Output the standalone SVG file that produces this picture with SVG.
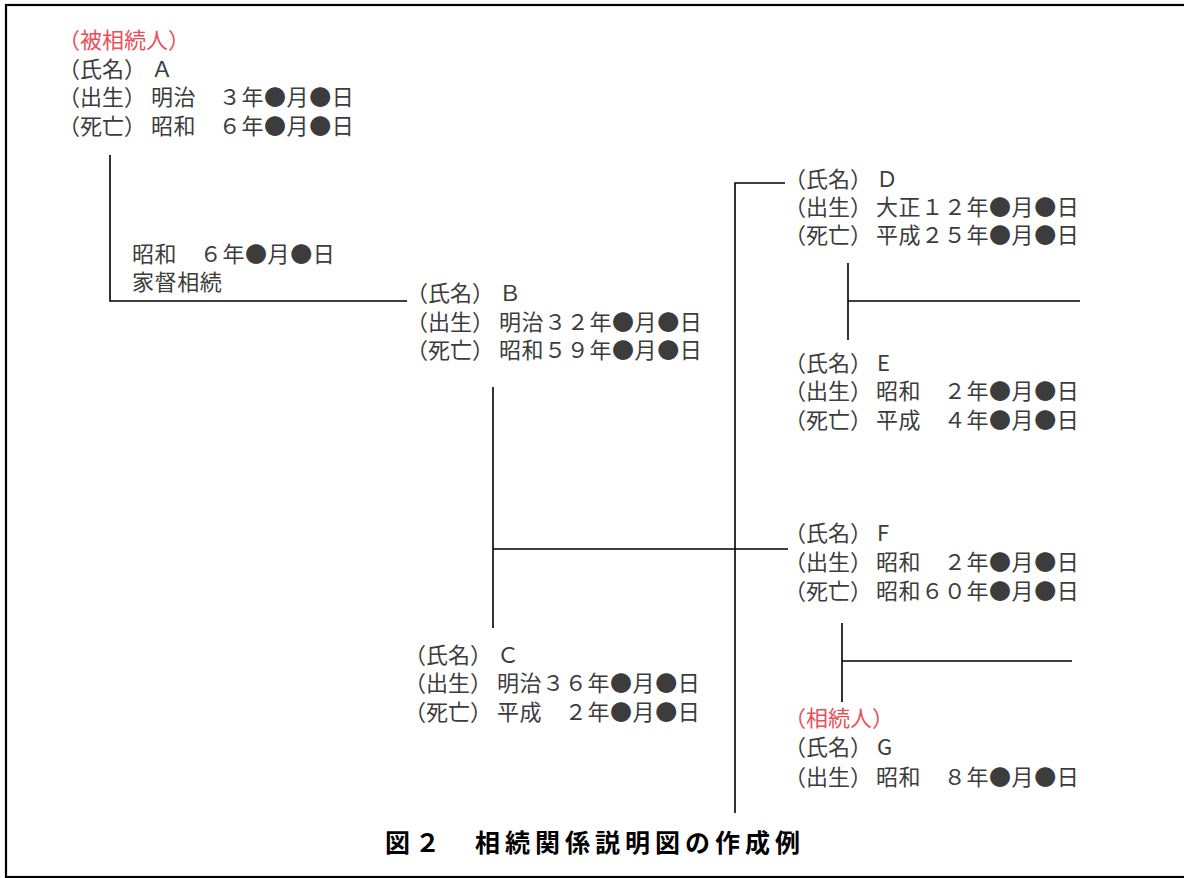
<svg xmlns="http://www.w3.org/2000/svg" width="1184" height="878" viewBox="0 0 1184 878">
<style>
.t{font-family:"Noto Sans CJK JP","Noto Sans",sans-serif;font-size:22px;fill:#3c3c3c;letter-spacing:0.6px}
.l{letter-spacing:0}
.r{fill:#e8505a}
.cap{font-family:"Noto Sans CJK JP","Noto Sans",sans-serif;font-size:25px;font-weight:bold;fill:#000;letter-spacing:5px}
.ln{stroke:#000;stroke-width:1.6;fill:none}
</style>
<rect x="6" y="5" width="1190" height="872" fill="#fff" stroke="#000" stroke-width="2.2"/>
<g id="connectors" class="ln">
<path d="M110,155 V301 H407"/>
<path d="M493,387 V628"/>
<path d="M493,549 H788"/>
<path d="M785,183 H735 V813"/>
<path d="M848,263 V340"/>
<path d="M848,301 H1080"/>
<path d="M842,623 V702"/>
<path d="M842,661 H1072"/>
</g>
<g id="nodeA">
<text class="t l r" x="58" y="48">（被相続人）</text>
<text class="t l" x="58" y="77">（氏名）</text><text class="t" x="151" y="77">Ａ</text>
<text class="t l" x="58" y="105">（出生）</text><text class="t" x="151" y="105">明治　３年●月●日</text>
<text class="t l" x="58" y="134">（死亡）</text><text class="t" x="151" y="134">昭和　６年●月●日</text>
</g>
<g id="succession">
<text class="t" x="132" y="262">昭和　６年●月●日</text>
<text class="t" x="132" y="290">家督相続</text>
</g>
<g id="nodeB">
<text class="t l" x="406" y="301">（氏名）</text><text class="t" x="499" y="301">Ｂ</text>
<text class="t l" x="406" y="330">（出生）</text><text class="t" x="499" y="330">明治３２年●月●日</text>
<text class="t l" x="406" y="358">（死亡）</text><text class="t" x="499" y="358">昭和５９年●月●日</text>
</g>
<g id="nodeC">
<text class="t l" x="404" y="663">（氏名）</text><text class="t" x="497" y="663">Ｃ</text>
<text class="t l" x="404" y="691">（出生）</text><text class="t" x="497" y="691">明治３６年●月●日</text>
<text class="t l" x="404" y="720">（死亡）</text><text class="t" x="497" y="720">平成　２年●月●日</text>
</g>
<g id="nodeD">
<text class="t l" x="784" y="187">（氏名）</text><text class="t" x="876" y="187">Ｄ</text>
<text class="t l" x="784" y="215">（出生）</text><text class="t" x="876" y="215">大正１２年●月●日</text>
<text class="t l" x="784" y="243">（死亡）</text><text class="t" x="876" y="243">平成２５年●月●日</text>
</g>
<g id="nodeE">
<text class="t l" x="784" y="371">（氏名）</text><text class="t" x="877" y="371">E</text>
<text class="t l" x="784" y="399">（出生）</text><text class="t" x="876" y="399">昭和　２年●月●日</text>
<text class="t l" x="784" y="428">（死亡）</text><text class="t" x="876" y="428">平成　４年●月●日</text>
</g>
<g id="nodeF">
<text class="t l" x="784" y="541">（氏名）</text><text class="t" x="877" y="541">F</text>
<text class="t l" x="784" y="570">（出生）</text><text class="t" x="876" y="570">昭和　２年●月●日</text>
<text class="t l" x="784" y="599">（死亡）</text><text class="t" x="876" y="599">昭和６０年●月●日</text>
</g>
<g id="nodeG">
<text class="t l r" x="784" y="726">（相続人）</text>
<text class="t l" x="784" y="755">（氏名）</text><text class="t" x="877" y="755">G</text>
<text class="t l" x="784" y="785">（出生）</text><text class="t" x="876" y="785">昭和　８年●月●日</text>
</g>
<g id="caption">
<text class="cap" x="385" y="852">図２　相続関係説明図の作成例</text>
</g>
</svg>
